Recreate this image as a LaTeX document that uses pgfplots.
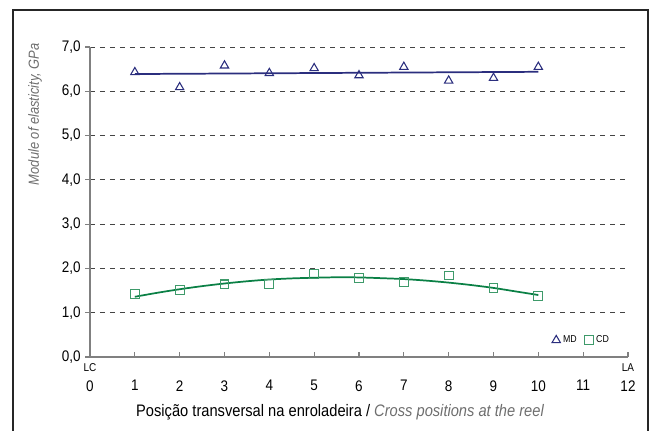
\documentclass[border=0pt]{standalone}
\usepackage{pgfplots}
\pgfplotsset{compat=1.18}
\usepackage{fontspec}
\setmainfont{Liberation Sans}[FakeStretch=0.88]
\definecolor{mdblue}{HTML}{2B2E7E}
\definecolor{cdgreen}{HTML}{0A8045}
\definecolor{cdmark}{HTML}{3E9A6A}
\definecolor{axgray}{HTML}{808080}
\definecolor{labgray}{HTML}{6E6E6E}
\definecolor{gridgray}{HTML}{444444}
\begin{document}
\begin{tikzpicture}
\begin{axis}[
  scale only axis, width=403.5pt, height=232.5pt,
  xmin=0, xmax=12, ymin=0, ymax=7,
  axis x line*=bottom, axis y line*=left,
  axis line style={axgray, line width=0.8pt},
  xtick={0,...,12},
  ytick={1,...,7},
  yticklabels={1{,}0,2{,}0,3{,}0,4{,}0,5{,}0,6{,}0,7{,}0},
  extra y ticks={0}, extra y tick labels={0{,}0},
  extra y tick style={grid=none},
  ymajorgrids,
  grid style={gridgray, line width=0.7pt, dash pattern=on 3.75pt off 3.75pt},
  xtick align=inside, ytick align=outside,
  major tick length=3.5pt,
  tick style={axgray, line width=0.8pt},
  /pgf/number format/assume math mode=true,
  ticklabel style={font=\fontsize{11.5}{13}\selectfont, text=black},
  xticklabel style={yshift=-14pt},
  clip=false,
  legend style={at={(axis cs:10.97,0.38)}, anchor=center, draw=none, fill=none,
    font=\fontsize{7.5}{8}\selectfont, legend columns=2,
    /tikz/every even column/.append style={column sep=4pt},
    inner sep=0pt},
  legend cell align=left,
]
\addplot[forget plot, mdblue, line width=1.3pt] coordinates {(1,6.39) (10,6.44)};
\addplot[forget plot, cdgreen, line width=1.3pt, smooth] coordinates {
 (1,1.36) (1.5,1.45) (2,1.53) (2.5,1.60) (3,1.66) (3.5,1.71) (4,1.75) (4.5,1.775)
 (5,1.79) (5.5,1.80) (6,1.797) (6.5,1.78) (7,1.76) (7.5,1.725) (8,1.68)
 (8.5,1.625) (9,1.56) (9.5,1.48) (10,1.40)};
\addplot[only marks, mdblue, mark=triangle, mark size=3.6pt, mark options={line width=0.8pt, fill=none}]
 coordinates {(1,6.43) (2,6.09) (3,6.58) (4,6.41) (5,6.52) (6,6.36) (7,6.55) (8,6.24) (9,6.30) (10,6.55)};
\addplot[only marks, cdmark, mark=square, mark size=3.3pt, mark options={line width=0.8pt, fill=none}]
 coordinates {(1,1.42) (2,1.51) (3,1.64) (4,1.65) (5,1.88) (6,1.78) (7,1.69) (8,1.84) (9,1.55) (10,1.38)};
\legend{MD, CD}
\node[font=\fontsize{8.5}{9}\selectfont, anchor=north, inner sep=0pt] at (axis cs:0,0) [yshift=-5pt] {LC};
\node[font=\fontsize{8.5}{9}\selectfont, anchor=north, inner sep=0pt] at (axis cs:12,0) [yshift=-5pt] {LA};
\end{axis}
\begin{scope}[x=0.75pt, y=0.75pt]
\path[use as bounding box] (-90,-73) rectangle (560,357);
\draw[line width=1.5pt, black!85] (-77,-90) -- (-77,347) -- (558,347) -- (558,-90);
\node[rotate=90, anchor=east, inner sep=0pt, text=labgray, font=\itshape\fontsize{11}{12}\selectfont] at (-55,314) {Module of elasticity, GPa};
\node[inner sep=0pt, font=\fontsize{12.5}{14}\selectfont] at (250,-55) {Posição transversal na enroladeira / {\itshape\color{labgray}Cross positions at the reel}};
\end{scope}
\end{tikzpicture}
\end{document}
